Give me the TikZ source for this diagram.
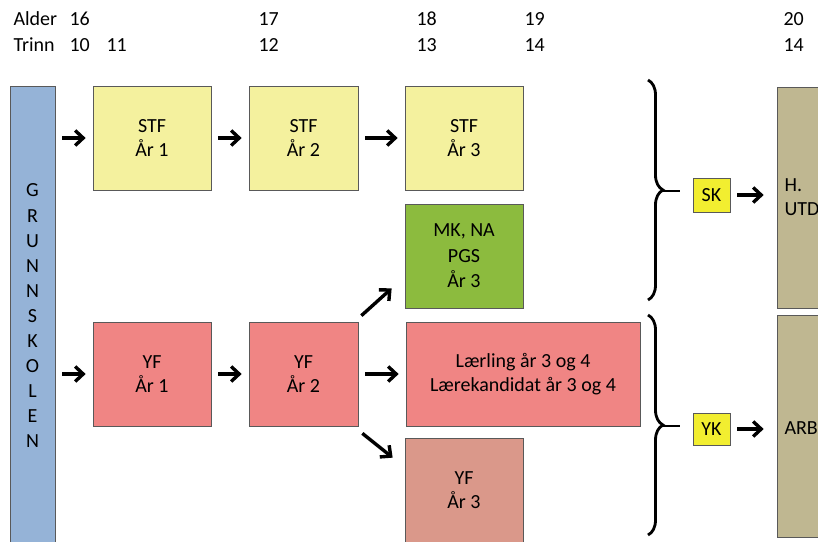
\documentclass[tikz,border=0pt]{standalone}
\usepackage{fontspec}
\setmainfont{Carlito}
\usetikzlibrary{arrows.meta,decorations.pathreplacing}

\definecolor{grunnblaa}{HTML}{95B3D7}
\definecolor{stfgul}{HTML}{F4F19E}
\definecolor{mkgronn}{HTML}{8CBB3E}
\definecolor{yfrod}{HTML}{F08584}
\definecolor{yfbrun}{HTML}{DA988A}
\definecolor{utdkaki}{HTML}{BFB791}
\definecolor{kompgul}{HTML}{F2EE30}

\begin{document}
\begin{tikzpicture}
	[
	x=1pt, y=-1pt,
	font=\fontsize{20}{24}\selectfont,
	box/.style={draw=black!65, line width=0.7, align=center, inner sep=0},
	pil/.style={-{Straight Barb[length=8,width=15]}, line width=3.4, shorten <=7, shorten >=7},
	klamme/.style={decorate, decoration={brace, amplitude=15}, line width=2.8}
	]
		\clip (0,0) rectangle (818,541);

		% age and level
		\node[anchor=base west] (alder) at (10,25) {Alder};
		\node[anchor=base west] (a16) at (66,25) {16};
		\node[anchor=base west] (a17) at (255,25) {17};
		\node[anchor=base west] (a18) at (413,25) {18};
		\node[anchor=base west] (a19) at (521,25) {19};
		\node[anchor=base west] (a20) at (780,25) {20};
		\node[anchor=base west] (trinn) at (10,51) {Trinn};
		\node[anchor=base west] (t10) at (66,51) {10};
		\node[anchor=base west] (t11) at (103,51) {11};
		\node[anchor=base west] (t12) at (255,51) {12};
		\node[anchor=base west] (t13) at (413,51) {13};
		\node[anchor=base west] (t14) at (521,51) {14};
		\node[anchor=base west] (t14b) at (780,51) {14};

		% grunnskolen
		\node[box, fill=grunnblaa, minimum width=45, minimum height=460,
			font=\fontsize{20}{25.1}\selectfont] (gs) at (32.5,316)
			{G\\R\\U\\N\\N\\S\\K\\O\\L\\E\\N};

		% studieforberedende
		\node[box, fill=stfgul, minimum width=118, minimum height=104] (stf1) at (152,138) {STF\\År 1};
		\node[box, fill=stfgul, minimum width=109, minimum height=104] (stf2) at (303.5,138) {STF\\År 2};
		\node[box, fill=stfgul, minimum width=118, minimum height=104] (stf3) at (464,138) {STF\\År 3};
		\node[box, fill=mkgronn, minimum width=118, minimum height=104,
			font=\fontsize{20}{25.5}\selectfont] (mk) at (464,256) {MK, NA\\PGS\\År 3};

		% yrkesfag
		\node[box, fill=yfrod, minimum width=118, minimum height=104] (yf1) at (152,374) {YF\\År 1};
		\node[box, fill=yfrod, minimum width=109, minimum height=104] (yf2) at (303.5,374) {YF\\År 2};
		\node[box, fill=yfrod, minimum width=234, minimum height=104] (laer) at (523,374)
			{Lærling år 3 og 4\\Lærekandidat år 3 og 4};
		\node[box, fill=yfbrun, minimum width=118, minimum height=104] (yf3) at (464,490) {YF\\År 3};

		% kompetanse
		\node[box, fill=kompgul, minimum width=37, minimum height=34] (sk) at (711.5,195) {SK};
		\node[box, fill=kompgul, minimum width=37, minimum height=32] (yk) at (711.5,429) {YK};
		\node[box, fill=utdkaki, minimum width=90, minimum height=221] (hutd) at (822,197.5) {};
		\node[box, fill=utdkaki, minimum width=90, minimum height=222] (arb) at (822,426) {};
		\node[anchor=west, align=left] (hutdtxt) at (781,197.5) {H.\\UTD};
		\node[anchor=west] (arbtxt) at (781,428) {ARB};

		% braces
		\coordinate (sktop) at (648,80);
		\coordinate (skbot) at (648,300);
		\coordinate (yktop) at (648,315);
		\coordinate (ykbot) at (648,535);
		\draw[klamme] (sktop) -- (skbot);
		\draw[klamme] (yktop) -- (ykbot);
		\coordinate (sktip) at (663,191);
		\coordinate (yktip) at (663,426);
		\draw[line width=2.8] (sktip) -- ++(17,0);
		\draw[line width=2.8] (yktip) -- ++(17,0);

		% drawing code
		\draw[pil] (stf1.west -| gs.east) -- (stf1.west);
		\draw[pil] (yf1.west -| gs.east) -- (yf1.west);
		\foreach \from/\to in {stf1/stf2,stf2/stf3,yf1/yf2,yf2/laer} \draw[pil] (\from) -- (\to);
		\draw[pil, shorten <=0, shorten >=0] ([shift={(3,-6)}]yf2.north east) -- ([shift={(-13,-20)}]mk.south west);
		\draw[pil, shorten <=0, shorten >=0] ([shift={(4,7)}]yf2.south east) -- ([shift={(-12,20)}]yf3.north west);
		\draw[pil, shorten >=13] (sk.east) -- (sk.east -| hutd.west);
		\draw[pil, shorten >=13] (yk.east) -- (yk.east -| arb.west);
\end{tikzpicture}
\end{document}
